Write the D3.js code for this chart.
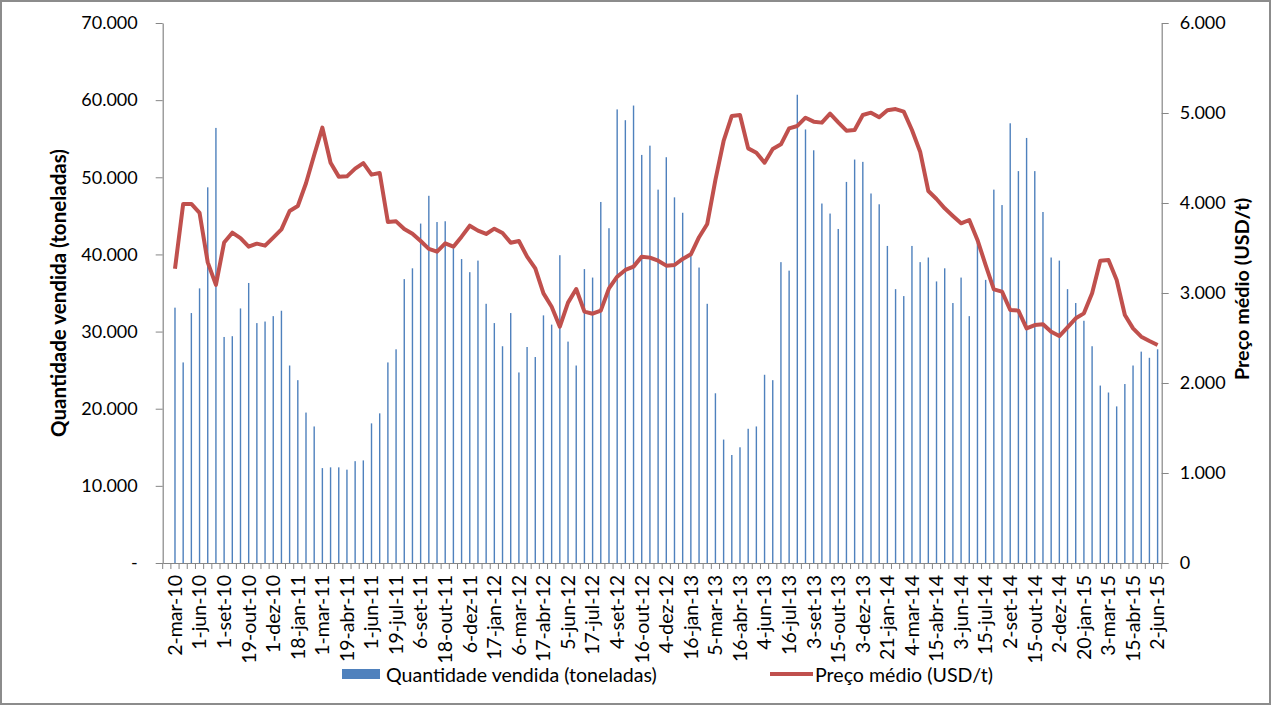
<!DOCTYPE html>
<html>
<head>
<meta charset="utf-8">
<script src="https://cdn.jsdelivr.net/npm/d3@7"></script>
<style>
  body { margin: 0; background: #fff; }
  text { font-family: Lato, "Open Sans", sans-serif; fill: #000; }
</style>
</head>
<body>
<div id="chart"></div>
<script>
// quantidade vendida (toneladas), one value per period
const qty = [
  33100, 26000, 32400, 35600, 48700, 56400, 29300, 29400, 33000, 36300,
  31100, 31300, 32000, 32700, 25600, 23700, 19500, 17700, 12300, 12400,
  12400, 12100, 13200, 13300, 18100, 19400, 26000, 27700, 36800, 38200,
  44000, 47600, 44200, 44300, 40800, 39400, 37700, 39200, 33600, 31100,
  28100, 32400, 24700, 28000, 26700, 32100, 30900, 39900, 28700, 25600,
  38100, 37000, 46800, 43400, 58800, 57400, 59300, 52900, 54100, 48400,
  52600, 47400, 45400, 40000, 38300, 33600, 22000, 16000, 14000, 15000,
  17400, 17700, 24400, 23700, 39000, 37900, 60700, 56200, 53500, 46600,
  45300, 43300, 49400, 52300, 52000, 47900, 46500, 41100, 35500, 34600,
  41100, 39000, 39600, 36500, 38200, 33700, 37000, 32000, 41500, 36700,
  48400, 46400, 57000, 50800, 55100, 50800, 45500, 39600, 39200, 35500,
  33700, 31400, 28100, 23000, 22100, 20300, 23200, 25600, 27400, 26600,
  27700
];

// preço médio (USD/t)
const price = [
  3270, 3990, 3990, 3890, 3340, 3090, 3560, 3670, 3610, 3515,
  3548, 3526, 3615, 3707, 3911, 3967, 4219, 4533, 4837, 4448,
  4293, 4296, 4382, 4444, 4315, 4333, 3789, 3796, 3711, 3659,
  3578, 3490, 3459, 3552, 3515, 3626, 3748, 3693, 3656, 3715,
  3667, 3559, 3578, 3404, 3274, 2996, 2848, 2626, 2893, 3044,
  2793, 2770, 2804, 3052, 3181, 3256, 3293, 3404, 3393, 3359,
  3304, 3311, 3378, 3430, 3620, 3767, 4256, 4689, 4967, 4978,
  4607, 4559, 4448, 4600, 4652, 4830, 4856, 4948, 4904, 4893,
  4993, 4896, 4804, 4811, 4978, 5004, 4952, 5030, 5044, 5015,
  4811, 4570, 4133, 4044, 3941, 3856, 3774, 3811, 3589, 3311,
  3041, 3015, 2811, 2804, 2607, 2644, 2652, 2570, 2522, 2619,
  2719, 2774, 2996, 3359, 3367, 3144, 2756, 2607, 2515, 2467,
  2422
];

// every third period is labelled
const tickLabels = [
  "2-mar-10", "1-jun-10", "1-set-10", "19-out-10", "1-dez-10", "18-jan-11",
  "1-mar-11", "19-abr-11", "1-jun-11", "19-jul-11", "6-set-11", "18-out-11",
  "6-dez-11", "17-jan-12", "6-mar-12", "17-abr-12", "5-jun-12", "17-jul-12",
  "4-set-12", "16-out-12", "4-dez-12", "16-jan-13", "5-mar-13", "16-abr-13",
  "4-jun-13", "16-jul-13", "3-set-13", "15-out-13", "3-dez-13", "21-jan-14",
  "4-mar-14", "15-abr-14", "3-jun-14", "15-jul-14", "2-set-14", "15-out-14",
  "2-dez-14", "20-jan-15", "3-mar-15", "15-abr-15", "2-jun-15"
];

const seriesNames = ["Quantidade vendida (toneladas)", "Preço médio (USD/t)"];

const width = 1271, height = 705;
const mLeft = 162.7, mRight = 1161.7, mTop = 23, mBottom = 563;
const CBAR = "#4F81BD", CLINE = "#C0504D", CAXIS = "#868686";

const svg = d3.select("#chart").append("svg")
  .attr("width", width).attr("height", height);

svg.append("rect")
  .attr("x", 1).attr("y", 1).attr("width", width - 2).attr("height", height - 2)
  .attr("fill", "#fff").attr("stroke", "#8c8c8c").attr("stroke-width", 2);

// category slot 0 is empty in the original sheet
const x = d3.scaleBand().domain(d3.range(qty.length + 1)).range([mLeft, mRight]);
const yL = d3.scaleLinear().domain([0, 70000]).range([mBottom, mTop]);
const yR = d3.scaleLinear().domain([0, 6000]).range([mBottom, mTop]);

const fmt = v => d3.format(",")(v).replace(/,/g, ".");

// bars
svg.append("g")
  .selectAll("rect")
  .data(qty)
  .join("rect")
  .attr("x", (d, i) => x(i + 1) + x.bandwidth() / 2 - 0.7)
  .attr("width", 1.4)
  .attr("y", d => yL(d))
  .attr("height", d => mBottom - yL(d))
  .attr("fill", CBAR);

// line
const line = d3.line()
  .x((d, i) => x(i + 1) + x.bandwidth() / 2)
  .y(d => yR(d));

svg.append("path")
  .datum(price)
  .attr("d", line)
  .attr("fill", "none")
  .attr("stroke", CLINE)
  .attr("stroke-width", 4)
  .attr("stroke-linejoin", "round");

// left axis
const gL = svg.append("g")
  .attr("transform", `translate(${mLeft},0)`)
  .call(d3.axisLeft(yL).tickValues(d3.range(0, 70001, 10000))
    .tickSize(7).tickSizeOuter(0).tickPadding(18)
    .tickFormat(v => v === 0 ? "-" : fmt(v)));

// right axis
const gR = svg.append("g")
  .attr("transform", `translate(${mRight},0)`)
  .call(d3.axisRight(yR).tickValues(d3.range(0, 6001, 1000))
    .tickSize(7).tickSizeOuter(0).tickPadding(11)
    .tickFormat(v => v === 0 ? "0" : fmt(v)));

// bottom axis: labels every third slot
const labelIdx = tickLabels.map((_, k) => 1 + 3 * k);
const gB = svg.append("g")
  .attr("transform", `translate(0,${mBottom})`)
  .call(d3.axisBottom(x).tickValues(labelIdx)
    .tickSize(0).tickSizeOuter(0).tickPadding(0)
    .tickFormat((d, k) => tickLabels[k]));

// tick marks between categories
svg.append("g")
  .selectAll("line")
  .data(d3.range(qty.length + 2))
  .join("line")
  .attr("x1", i => mLeft + i * x.bandwidth())
  .attr("x2", i => mLeft + i * x.bandwidth())
  .attr("y1", mBottom).attr("y2", mBottom + 6)
  .attr("stroke", CAXIS);

[gL, gR, gB].forEach(g => {
  g.selectAll(".domain").attr("stroke", CAXIS).attr("stroke-width", 1.2);
  g.selectAll(".tick line").attr("stroke", CAXIS);
  g.selectAll(".tick text").attr("font-size", 18).attr("fill", "#000")
    .style("font-family", "Lato, sans-serif");
});

gB.selectAll(".tick text")
  .attr("transform", "rotate(-90)")
  .attr("text-anchor", "end")
  .attr("x", -12)
  .attr("y", 0)
  .attr("dy", "0.35em")
  .attr("font-size", 19.5);

// axis titles
svg.append("text")
  .attr("transform", "translate(66,293) rotate(-90)")
  .attr("text-anchor", "middle")
  .attr("font-size", 20.5).attr("font-weight", "bold")
  .text("Quantidade vendida (toneladas)");

svg.append("text")
  .attr("transform", "translate(1249,289) rotate(-90)")
  .attr("text-anchor", "middle")
  .attr("font-size", 19.8).attr("font-weight", "bold")
  .text("Preço médio (USD/t)");

// legend
const lg = svg.append("g");
lg.append("rect").attr("x", 342).attr("y", 669).attr("width", 38).attr("height", 10).attr("fill", CBAR);
lg.append("text").attr("x", 386).attr("y", 675).attr("dy", "0.35em")
  .attr("font-size", 19.6).text(seriesNames[0]);
lg.append("line").attr("x1", 770).attr("x2", 813).attr("y1", 674).attr("y2", 674)
  .attr("stroke", CLINE).attr("stroke-width", 4);
lg.append("text").attr("x", 815).attr("y", 675).attr("dy", "0.35em")
  .attr("font-size", 19.6).text(seriesNames[1]);
</script>
</body>
</html>
